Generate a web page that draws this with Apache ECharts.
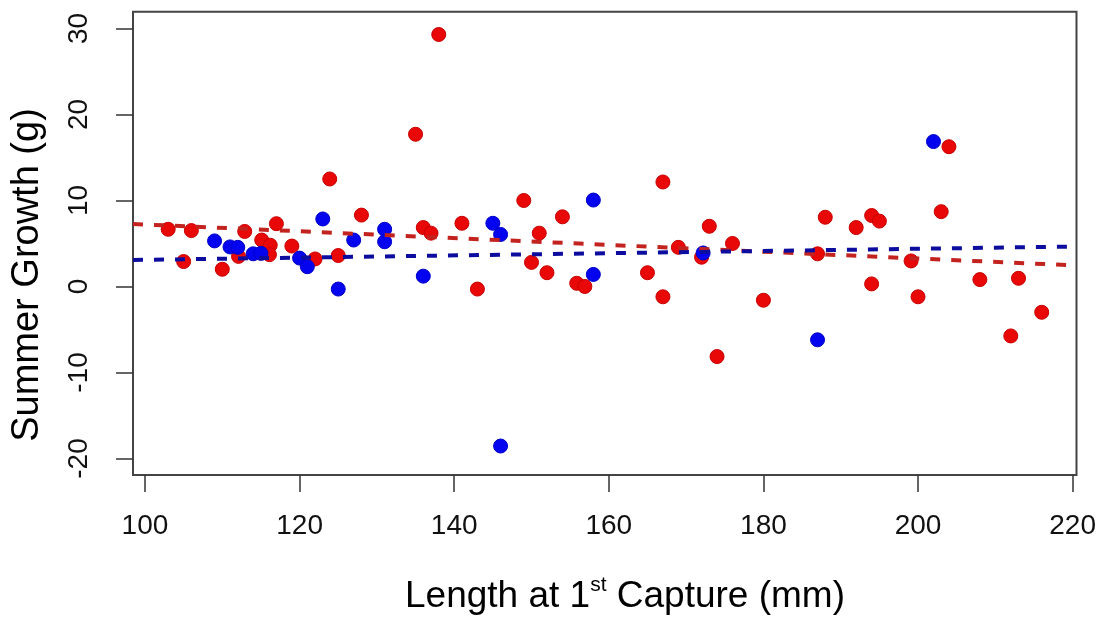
<!DOCTYPE html>
<html>
<head>
<meta charset="utf-8">
<script src="https://cdn.jsdelivr.net/npm/echarts@6/dist/echarts.min.js"></script>
<style>html,body{margin:0;padding:0;background:#fff}#c{width:1099px;height:620px}</style>
</head>
<body>
<div id="c"></div>
<script>
// ---- data ----
const redX = [103,105,106,110,112.1,112.9,115.1,116.2,116.1,117,119,122,123.9,125,128,135,136,137,138,141,143,149,150,151,152,154,155.85,156.9,165,167,167,169,172,173,174,176,180,187,188,192,194,195,194,199.1,200,203,204,208,212,213,216];
const redY = [6.65,2.9,6.5,2.0,3.5,6.4,5.4,4.8,3.7,7.3,4.7,3.2,12.5,3.6,8.3,17.7,6.85,6.2,29.3,7.35,-0.3,10.0,2.8,6.2,1.6,8.1,0.37,0.0,1.6,12.15,-1.2,4.55,3.4,7.0,-8.15,5.0,-1.6,3.8,8.05,6.85,8.25,7.6,0.3,2.97,-1.2,8.7,16.25,0.8,-5.75,0.95,-3.0];
const blueX = [109,111,112,114,115,120,121,123,125,127,131,131,136,145,146,146,158,158,172.2,187,202];
const blueY = [5.3,4.6,4.55,3.8,3.85,3.3,2.3,7.85,-0.3,5.4,6.65,5.2,1.2,7.35,6.05,-18.55,10.05,1.4,3.9,-6.2,16.85];
// fitted regression lines, values at the plot-region edges
const fitX = [98.45, 220.5];
const redFitY = [7.27, 2.44];
const blueFitY = [3.08, 4.65];
// axes
const xRange = [98.45, 220.5];
const yRange = [-21.92, 31.95];
const xTicks = [100,120,140,160,180,200,220];
const yTicks = [-20,-10,0,10,20,30];
const xTitle = ['Length at 1', 'st', ' Capture (mm)'];
const yTitle = 'Summer Growth (g)';

const pts = (xs, ys) => xs.map((x, i) => [x, ys[i]]);
const FONT = '"Liberation Sans", Arial, sans-serif';

const chart = echarts.init(document.getElementById('c'), null, {renderer: 'canvas'});
chart.setOption({
  animation: false,
  backgroundColor: '#fff',
  grid: {left: 133, right: 22.5, top: 11.7, bottom: 145, show: true, borderColor: '#444', borderWidth: 2, backgroundColor: 'transparent'},
  xAxis: {
    type: 'value', min: xRange[0], max: xRange[1],
    axisLine: {show: false, onZero: false},
    splitLine: {show: false},
    axisTick: {show: true, length: 17, customValues: xTicks, lineStyle: {color: '#333', width: 1.5}},
    axisLabel: {customValues: xTicks, margin: 37, fontSize: 28, fontFamily: FONT, color: '#111'}
  },
  yAxis: {
    type: 'value', min: yRange[0], max: yRange[1],
    axisLine: {show: false, onZero: false},
    splitLine: {show: false},
    axisTick: {show: true, length: 17, customValues: yTicks, lineStyle: {color: '#333', width: 1.5}},
    axisLabel: {customValues: yTicks, rotate: 90, margin: 40, fontSize: 28, fontFamily: FONT, color: '#111'}
  },
  graphic: [
    {type: 'text', x: 625, y: 597, z: 10, style: {
      text: '{a|' + xTitle[0] + '}{s|' + xTitle[1] + '}{a|' + xTitle[2] + '}',
      align: 'center', verticalAlign: 'middle', fill: '#000',
      rich: {
        a: {fontSize: 37, lineHeight: 44, fontFamily: FONT, fill: '#000'},
        s: {fontSize: 21, lineHeight: 31, verticalAlign: 'top', fontFamily: FONT, fill: '#000'}
      }
    }},
    {type: 'text', x: 28, y: 275, rotation: Math.PI / 2, z: 10, style: {
      text: yTitle, fontSize: 38, fontFamily: FONT, fill: '#000', align: 'center', verticalAlign: 'middle'
    }}
  ],
  series: [
    {type: 'scatter', data: pts(redX, redY), symbolSize: 14, itemStyle: {color: '#e80808', borderColor: '#c80000', borderWidth: 1, opacity: 1}, z: 2},
    {type: 'scatter', data: pts(blueX, blueY), symbolSize: 14, itemStyle: {color: '#0404ee', borderColor: '#0000c8', borderWidth: 1, opacity: 1}, z: 3},
    {type: 'line', data: pts(fitX, redFitY), symbol: 'none', lineStyle: {color: '#c2231f', width: 4, type: [10, 11]}, z: 4},
    {type: 'line', data: pts(fitX, blueFitY), symbol: 'none', lineStyle: {color: '#0c0c9e', width: 4, type: [10, 11]}, z: 5}
  ]
});
</script>
</body>
</html>
